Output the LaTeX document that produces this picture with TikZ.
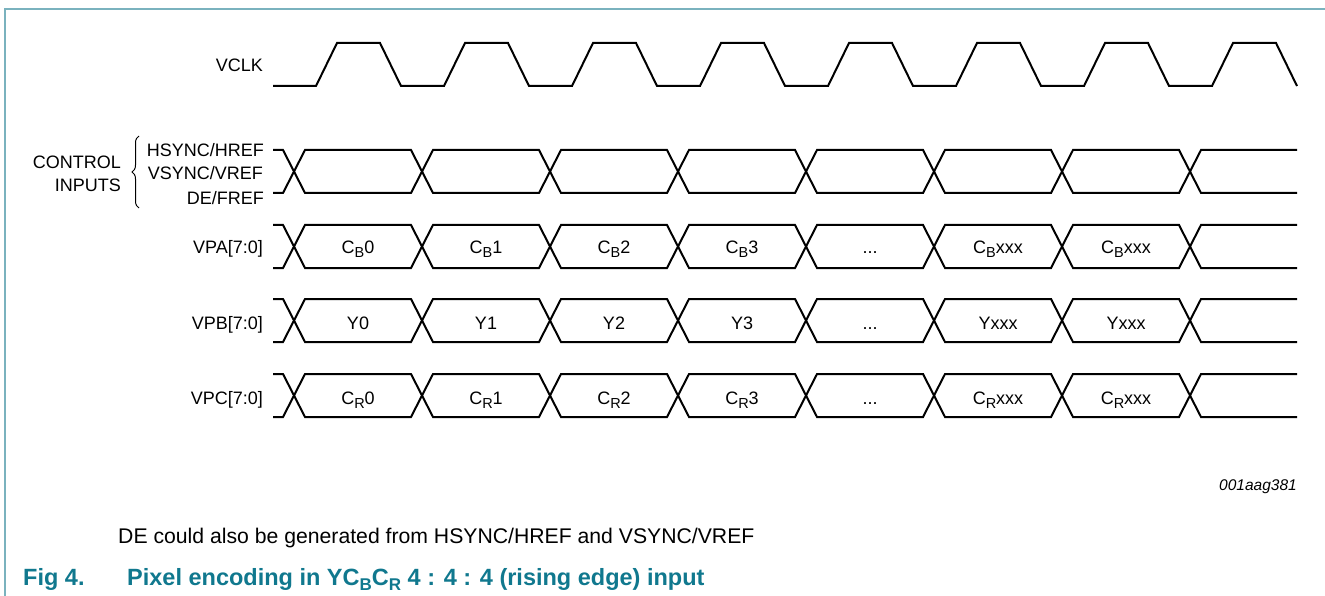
\documentclass[tikz,border=0pt]{standalone}
\usepackage{fontspec}
\setmainfont{Liberation Sans}
\usetikzlibrary{decorations.pathreplacing}
\definecolor{framec}{RGB}{122,178,190}
\definecolor{titlec}{RGB}{16,120,142}
\newcommand{\lblfont}{\fontsize{18}{21}\selectfont}
\newcommand{\sbx}[3]{\raisebox{-#1pt}{\fontsize{#2}{#2}\selectfont #3}}
\newcommand{\sB}{\sbx{4}{14.5}{B}}
\newcommand{\sR}{\sbx{4}{14.5}{R}}
\newcommand{\threedots}{.{}.{}.}
\newcommand{\busrow}[2]{%
  \draw[wave] (273,#1) \foreach \k in {0,2,4,6} { -- ({283+128*\k},#1) -- ({305+128*\k},#2) -- ({411+128*\k},#2) -- ({433+128*\k},#1) } -- (1297,#1);
  \draw[wave] (273,#2) \foreach \k in {0,2,4,6} { -- ({283+128*\k},#2) -- ({305+128*\k},#1) -- ({411+128*\k},#1) -- ({433+128*\k},#2) } -- (1297,#2);
}
\begin{document}
\begin{tikzpicture}[x=1pt,y=-1pt,
  wave/.style={line width=2pt, line join=miter},
  lab/.style={anchor=base east, inner sep=0pt, font=\lblfont},
  dat/.style={anchor=base, inner sep=0pt, font=\lblfont}]
\useasboundingbox (0,0) rectangle (1325,596);
% frame
\draw[framec, line width=1.5pt] (1325,9) -- (5,9) -- (5,596);
% clock
\draw[wave] (273,86) \foreach \k in {0,1,2,3,4,5,6,7} { -- ({316+128*\k},86) -- ({337+128*\k},43) -- ({380+128*\k},43) -- ({401+128*\k},86) };
% buses
\busrow{150}{193}
\busrow{225}{268}
\busrow{299}{342}
\busrow{374}{417}
% labels
\node[lab] (vclk) at (263,71.5) {VCLK};
\node[lab] (hs) at (264,156.5) {HSYNC/HREF};
\node[lab] (vs) at (263,179.5) {VSYNC/VREF};
\node[lab] (de) at (264,204.5) {DE/FREF};
\node[lab] (ctl) at (121,168.5) {CONTROL};
\node[lab] (inp) at (121,191.5) {INPUTS};
\draw[decorate, decoration={brace, amplitude=7pt}, line width=1pt] (139,208) -- (139,136);
\node[lab] (vpa) at (263,254) {VPA[7:0]};
\node[lab] (vpb) at (263,329) {VPB[7:0]};
\node[lab] (vpc) at (263,404) {VPC[7:0]};
% data
\foreach \dtxt [count=\di from 0] in {{C\sB0},{C\sB1},{C\sB2},{C\sB3},\threedots,{C\sB xxx},{C\sB xxx}}
  \node[dat] (a\di) at ({358+128*\di},254) {\dtxt};
\foreach \dtxt [count=\di from 0] in {Y0,Y1,Y2,Y3,\threedots,Yxxx,Yxxx}
  \node[dat] (b\di) at ({358+128*\di},329) {\dtxt};
\foreach \dtxt [count=\di from 0] in {{C\sR0},{C\sR1},{C\sR2},{C\sR3},\threedots,{C\sR xxx},{C\sR xxx}}
  \node[dat] (c\di) at ({358+128*\di},404) {\dtxt};
% notes
\node[anchor=base east, inner sep=0pt, font=\fontsize{15.5}{18}\selectfont\itshape] (code) at (1297,490) {001aag381};
\node[anchor=base west, inner sep=0pt, font=\fontsize{21.2}{25}\selectfont] (note) at (118,543) {DE could also be generated from HSYNC/HREF and VSYNC/VREF};
\node[anchor=base west, inner sep=0pt, text=titlec, font=\fontsize{23.5}{28}\selectfont\bfseries] (fig) at (23,585) {Fig 4.};
\node[anchor=base west, inner sep=0pt, text=titlec, font=\fontsize{23.5}{28}\selectfont\bfseries] (title) at (127,585) {Pixel encoding in YC\sbx{5}{17}{B}C\sbx{5}{17}{R} 4 : 4 : 4 (rising edge) input};
\end{tikzpicture}
\end{document}
